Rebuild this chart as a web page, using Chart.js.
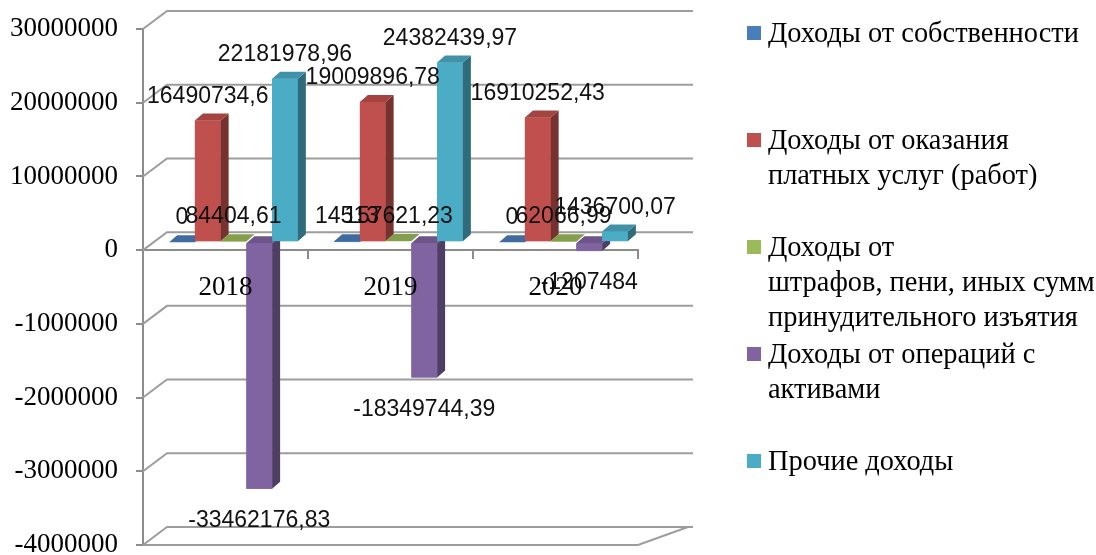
<!DOCTYPE html>
<html>
<head>
<meta charset="utf-8">
<script src="https://cdn.jsdelivr.net/npm/chart.js@4"></script>
<style>
  body { margin: 0; background: #fff; }
  #wrap { position: relative; width: 1096px; height: 555px; }
  #legend { position: absolute; left: 747px; top: 15px; }
  .item { display: flex; height: 107px; }
  .box { width: 14px; height: 14px; margin-top: 11px; flex: none; }
  .txt { font-family: 'Liberation Serif', serif; font-size: 28.4px; line-height: 35px; color: #000; width: 338px; margin-left: 7px; white-space: pre-line; }
</style>
</head>
<body>
<div id="wrap">
  <canvas id="chart" width="1096" height="555"></canvas>
  <div id="legend"></div>
</div>
<script>
// years
var categories = ['2018', '2019', '2020'];
var seriesNames = [
    'Доходы от собственности',
    'Доходы от оказания платных услуг (работ)',
    'Доходы от\nштрафов, пени, иных сумм принудительного изъятия',
    'Доходы от операций с активами',
    'Прочие доходы'
];
var ownIncome = [0, 14513, 0];
var paidServices = [16490734.6, 19009896.78, 16910252.43];
var fines = [84404.61, 157621.23, 62066.99];
var assetOps = [-33462176.83, -18349744.39, -1207484];
var otherIncome = [22181978.96, 24382439.97, 1436700.07];

// axis ticks, labels as printed in the picture
var yTickValues = [30000000, 20000000, 10000000, 0, -10000000, -20000000, -30000000, -40000000];
var yTickLabels = ['30000000', '20000000', '10000000', '0', '-1000000', '-2000000', '-3000000', '-4000000'];

var colors = ['#4A7EBB', '#C0504D', '#9BBB59', '#8064A2', '#4BACC6'];
var allSeries = [ownIncome, paidServices, fines, assetOps, otherIncome];

function shade(hex, f) {
    var n = parseInt(hex.slice(1), 16);
    var r = Math.round(((n >> 16) & 255) * f), g = Math.round(((n >> 8) & 255) * f), b = Math.round((n & 255) * f);
    return 'rgb(' + Math.min(r, 255) + ',' + Math.min(g, 255) + ',' + Math.min(b, 255) + ')';
}

function fmt(v) {
    return String(v).replace('.', ',');
}

var gridColor = '#9d9d9d';
var dx = 8, dy = -7;        // bar depth
var shiftX = 8, shiftY = -8; // bars sit a bit inside the 3d box

var threeD = {
    id: 'threeD',
    beforeDatasetsDraw: function(chart) {
        var ctx = chart.ctx, a = chart.chartArea, ys = chart.scales.y;
        ctx.save();
        ctx.strokeStyle = gridColor;
        ctx.lineWidth = 2;
        yTickValues.forEach(function(v) {
            var y = ys.getPixelForValue(v);
            ctx.beginPath();
            ctx.moveTo(a.left, y);
            ctx.lineTo(a.left + 24, y - 18);
            ctx.lineTo(a.right + 55, y - 18);
            ctx.stroke();
        });
        // floor at the bottom
        var yb = ys.getPixelForValue(yTickValues[yTickValues.length - 1]);
        ctx.beginPath();
        ctx.moveTo(a.left, yb);
        ctx.lineTo(a.right, yb);
        ctx.lineTo(a.right + 50, yb - 18);
        ctx.stroke();
        ctx.restore();
        ctx.save();
        ctx.translate(shiftX, shiftY);
    },
    afterDatasetsDraw: function(chart) {
        var ctx = chart.ctx;
        for (var j = 0; j < categories.length; j++) {
            for (var i = 0; i < allSeries.length; i++) {
                var el = chart.getDatasetMeta(i).data[j];
                var l = el.x - el.width / 2, r = el.x + el.width / 2;
                var t = Math.min(el.y, el.base), b = Math.max(el.y, el.base);
                ctx.fillStyle = colors[i];
                ctx.fillRect(l, t, r - l, b - t);
                ctx.fillStyle = shade(colors[i], 0.62);
                ctx.beginPath();
                ctx.moveTo(r, t); ctx.lineTo(r + dx, t + dy); ctx.lineTo(r + dx, b + dy); ctx.lineTo(r, b);
                ctx.closePath(); ctx.fill();
                ctx.fillStyle = shade(colors[i], 0.85);
                ctx.beginPath();
                ctx.moveTo(l, t); ctx.lineTo(l + dx, t + dy); ctx.lineTo(r + dx, t + dy); ctx.lineTo(r, t);
                ctx.closePath(); ctx.fill();
            }
        }
        ctx.restore();
    },
    afterDraw: function(chart) {
        var ctx = chart.ctx;
        ctx.save();
        ctx.font = '23px "Liberation Sans", sans-serif';
        ctx.fillStyle = '#111';
        ctx.textAlign = 'center';
        ctx.textBaseline = 'middle';
        for (var i = 0; i < allSeries.length; i++) {
            chart.getDatasetMeta(i).data.forEach(function(el, j) {
                var v = allSeries[i][j];
                var y = v >= 0 ? Math.min(el.y, el.base) - 32 : Math.max(el.y, el.base) + 24;
                ctx.fillText(fmt(v), el.x + shiftX, y);
            });
        }
        ctx.restore();
    }
};

var ctx = document.getElementById('chart');
var chart = new Chart(ctx, {
    type: 'bar',
    data: {
        labels: categories,
        datasets: allSeries.map(function(s, i) {
            return { label: seriesNames[i], data: s, backgroundColor: colors[i], borderWidth: 0 };
        })
    },
    options: {
        responsive: false,
        animation: false,
        categoryPercentage: 0.78,
        barPercentage: 1,
        layout: { padding: { left: 0, top: 29, right: 458, bottom: 10 } },
        plugins: { legend: { display: false }, tooltip: { enabled: false } },
        scales: {
            x: {
                position: { y: 0 },
                afterFit: function(scale) { scale.height = 0; },
                grid: { drawOnChartArea: false, tickLength: 8, color: '#8c8c8c', lineWidth: 2, offset: true },
                border: { color: '#8c8c8c', width: 2 },
                ticks: { z: 1, font: { family: 'Liberation Serif', size: 27 }, color: '#000', padding: 14 }
            },
            y: {
                min: -40000000,
                max: 30000000,
                afterBuildTicks: function(scale) {
                    scale.ticks = yTickValues.slice().sort(function(p, q) { return p - q; }).map(function(v) { return { value: v }; });
                },
                afterFit: function(scale) {
                    scale.width = 143;
                    scale.paddingTop = 0;
                    scale.paddingBottom = 0;
                },
                grid: { drawOnChartArea: false, tickLength: 7, color: '#8c8c8c', lineWidth: 2 },
                border: { color: '#8c8c8c', width: 2 },
                ticks: {
                    font: { family: 'Liberation Serif', size: 27 },
                    color: '#000',
                    padding: 18,
                    callback: function(v) { return yTickLabels[yTickValues.indexOf(v)]; }
                }
            }
        }
    },
    plugins: [threeD]
});

// legend on the right
var legend = document.getElementById('legend');
seriesNames.forEach(function(name, i) {
    var item = document.createElement('div');
    item.className = 'item';
    var box = document.createElement('div');
    box.className = 'box';
    box.style.background = colors[i];
    var txt = document.createElement('div');
    txt.className = 'txt';
    txt.textContent = name;
    item.appendChild(box);
    item.appendChild(txt);
    legend.appendChild(item);
});
</script>
</body>
</html>
